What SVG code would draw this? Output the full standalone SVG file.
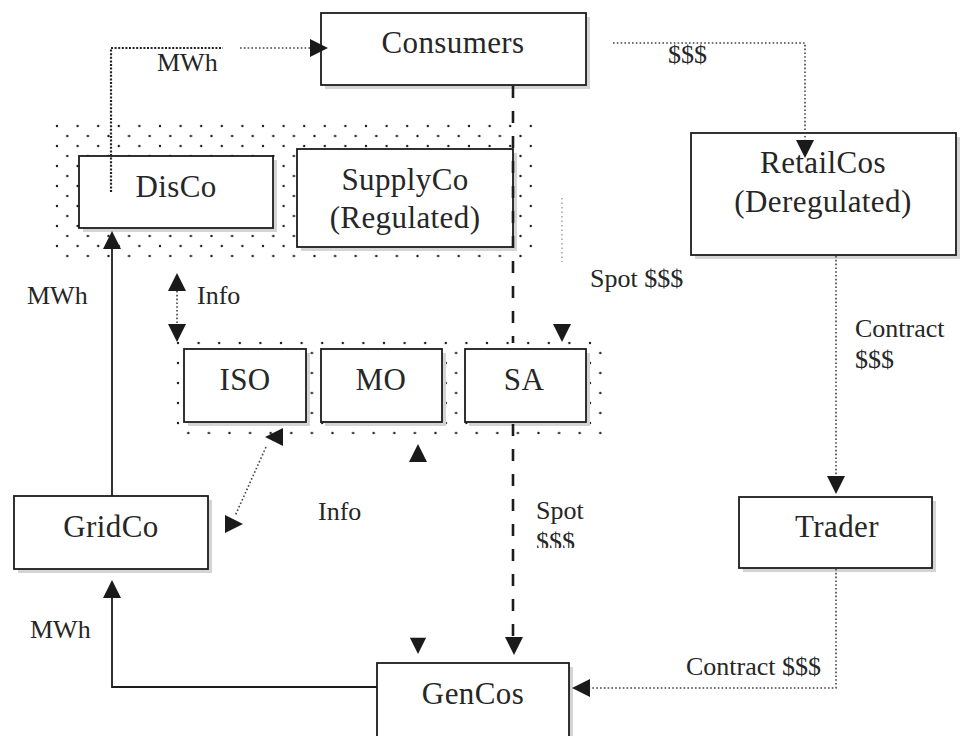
<svg xmlns="http://www.w3.org/2000/svg" width="960" height="736" viewBox="0 0 960 736">
  <defs>
    <style>
      .box { fill: #ffffff; stroke: #1c1c1c; stroke-width: 1.8; }
      .shadow { fill: #d4d4d4; }
      .name { font-family: "Liberation Serif", "Times New Roman", serif; font-size: 31px; fill: #262626; text-anchor: middle; letter-spacing: 0.4px; }
      .lbl { font-family: "Liberation Serif", "Times New Roman", serif; font-size: 26px; fill: #262626; }
      .solid { fill: none; stroke: #1c1c1c; stroke-width: 1.8; }
      .dot { fill: none; stroke: #444; stroke-width: 1.6; stroke-dasharray: 1.6 2.2; }
      .dot-dense { fill: none; stroke: #222; stroke-width: 2.2; stroke-dasharray: 2 1.6; }
      .dot-faint { fill: none; stroke: #9a9a9a; stroke-width: 1.4; stroke-dasharray: 1.5 3; }
      .dash { fill: none; stroke: #1c1c1c; stroke-width: 2.6; stroke-dasharray: 12 13; }
      .head { fill: #1a1a1a; }
    </style>
    <!-- dotted background used for grouped companies -->
    <pattern id="dotsA" x="57" y="126" width="20.6" height="20" patternUnits="userSpaceOnUse">
      <circle cx="0" cy="0" r="1.2" fill="#222"/>
      <circle cx="20.6" cy="0" r="1.2" fill="#222"/>
      <circle cx="0" cy="20" r="1.2" fill="#222"/>
      <circle cx="20.6" cy="20" r="1.2" fill="#222"/>
      <circle cx="10.3" cy="10" r="1.2" fill="#222"/>
    </pattern>
    <pattern id="dotsB" x="178" y="343" width="20.6" height="20" patternUnits="userSpaceOnUse">
      <circle cx="0" cy="0" r="1.2" fill="#222"/>
      <circle cx="20.6" cy="0" r="1.2" fill="#222"/>
      <circle cx="0" cy="20" r="1.2" fill="#222"/>
      <circle cx="20.6" cy="20" r="1.2" fill="#222"/>
      <circle cx="10.3" cy="10" r="1.2" fill="#222"/>
    </pattern>
    <!-- arrowhead, tip at origin, pointing down -->
    <path id="tri" d="M0,0 L-9,-18 L9,-18 Z"/>
    <clipPath id="clipSpot">
      <rect x="520" y="490" width="80" height="58"/>
    </clipPath>
  </defs>

  <rect width="960" height="736" fill="#ffffff"/>

  <!-- stippled groupings -->
  <g id="group-distribution">
    <rect x="55" y="124" width="478" height="140" fill="url(#dotsA)"/>
  </g>
  <g id="group-market">
    <rect x="176" y="341" width="426" height="98" fill="url(#dotsB)"/>
  </g>

  <!-- nodes -->
  <g id="consumers">
    <rect class="shadow" x="325" y="17" width="265" height="72"/>
    <rect class="box" x="321" y="13" width="265" height="72"/>
    <text class="name" x="453" y="53">Consumers</text>
  </g>
  <g id="disco">
    <rect class="shadow" x="83" y="160" width="194" height="72"/>
    <rect class="box" x="79" y="156" width="194" height="72"/>
    <text class="name" x="176" y="197">DisCo</text>
  </g>
  <g id="supplyco">
    <rect class="shadow" x="301" y="153" width="216" height="98"/>
    <rect class="box" x="297" y="149" width="216" height="98"/>
    <text class="name" x="405" y="190">SupplyCo</text>
    <text class="name" x="405" y="228">(Regulated)</text>
  </g>
  <g id="retailcos">
    <rect class="shadow" x="695" y="137" width="265" height="122"/>
    <rect class="box" x="691" y="133" width="265" height="122"/>
    <text class="name" x="823" y="173">RetailCos</text>
    <text class="name" x="823" y="212">(Deregulated)</text>
  </g>
  <g id="iso">
    <rect class="shadow" x="188" y="353" width="122" height="73"/>
    <rect class="box" x="184" y="349" width="122" height="73"/>
    <text class="name" x="245" y="390">ISO</text>
  </g>
  <g id="mo">
    <rect class="shadow" x="325" y="353" width="121" height="73"/>
    <rect class="box" x="321" y="349" width="121" height="73"/>
    <text class="name" x="381" y="390">MO</text>
  </g>
  <g id="sa">
    <rect class="shadow" x="469" y="353" width="121" height="73"/>
    <rect class="box" x="465" y="349" width="121" height="73"/>
    <text class="name" x="524" y="390">SA</text>
  </g>
  <g id="trader">
    <rect class="shadow" x="743" y="501" width="193" height="71"/>
    <rect class="box" x="739" y="497" width="193" height="71"/>
    <text class="name" x="837" y="537">Trader</text>
  </g>
  <g id="gridco">
    <rect class="shadow" x="18" y="500" width="194" height="73"/>
    <rect class="box" x="14" y="496" width="194" height="73"/>
    <text class="name" x="111" y="537">GridCo</text>
  </g>
  <g id="gencos">
    <rect class="shadow" x="381" y="667" width="192" height="90"/>
    <rect class="box" x="377" y="663" width="192" height="90"/>
    <text class="name" x="473" y="704">GenCos</text>
  </g>

  <!-- connectors -->
  <g id="connectors">
    <!-- energy flow to consumers -->
    <path class="dot-dense" d="M111,192 V48 H223"/>
    <path class="dot" d="M240,48 H310"/>
    <use href="#tri" class="head" transform="translate(328,48) rotate(-90)"/>

    <!-- consumer payments -->
    <path class="dot" d="M613,43 H805 V143"/>
    <use href="#tri" class="head" transform="translate(805,158)"/>

    <!-- grid to distribution -->
    <path class="solid" d="M112,496 V248"/>
    <use href="#tri" class="head" transform="translate(112,231) rotate(180)"/>

    <!-- information exchange DisCo / ISO -->
    <path class="dot" d="M177,291 V324"/>
    <use href="#tri" class="head" transform="translate(177,273) rotate(180)"/>
    <use href="#tri" class="head" transform="translate(177,342)"/>

    <!-- spot payments -->
    <path class="dot-faint" d="M562,198 V262"/>
    <use href="#tri" class="head" transform="translate(562,342)"/>
    <path class="dash" d="M513,86 V343"/>
    <path class="dash" d="M513,424 V640"/>
    <use href="#tri" class="head" transform="translate(514,655)"/>

    <!-- contract payments -->
    <path class="dot" d="M836,256 V477"/>
    <use href="#tri" class="head" transform="translate(836,494)"/>
    <path class="dot" d="M836,569 V688 H590"/>
    <use href="#tri" class="head" transform="translate(572,688) rotate(90)"/>

    <!-- information exchange ISO / GridCo -->
    <path class="dot" d="M266,447 L235,516"/>
    <use href="#tri" class="head" transform="translate(265,437) rotate(90)"/>
    <use href="#tri" class="head" transform="translate(243,524) rotate(-90)"/>
    <use href="#tri" class="head" transform="translate(418,444) rotate(180)"/>
    <use href="#tri" class="head" transform="translate(418,654) scale(0.9)"/>

    <!-- generation to grid -->
    <path class="solid" d="M377,687 H112 V598"/>
    <use href="#tri" class="head" transform="translate(112,580) rotate(180)"/>
  </g>

  <!-- flow labels -->
  <g id="labels">
    <text class="lbl" x="157" y="71">MWh</text>
    <text class="lbl" x="668" y="63">$$$</text>
    <text class="lbl" x="27" y="304">MWh</text>
    <text class="lbl" x="197" y="304">Info</text>
    <text class="lbl" x="590" y="287">Spot $$$</text>
    <text class="lbl" x="855" y="337">Contract</text>
    <text class="lbl" x="855" y="368">$$$</text>
    <text class="lbl" x="318" y="520">Info</text>
    <g clip-path="url(#clipSpot)">
      <text class="lbl" x="536" y="519">Spot</text>
      <text class="lbl" x="536" y="550">$$$</text>
    </g>
    <text class="lbl" x="686" y="675">Contract $$$</text>
    <text class="lbl" x="30" y="638">MWh</text>
  </g>
</svg>
